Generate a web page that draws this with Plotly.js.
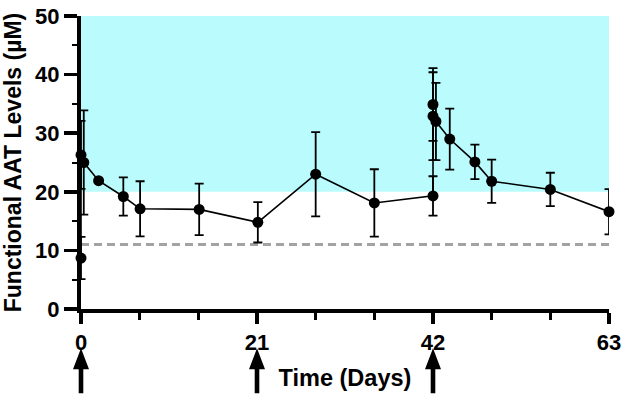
<!DOCTYPE html>
<html>
<head>
<meta charset="utf-8">
<script src="https://cdn.plot.ly/plotly-3.0.1.min.js"></script>
<style>html,body{margin:0;padding:0;background:#fff;}#chart{width:624px;height:399px;}</style>
</head>
<body>
<div id="chart"></div>
<script>
// Time points (days) in plotting order
const days = [0, 0, 0.33, 2.1, 5.05, 7.05, 14.1, 21.1, 28, 35, 42, 42, 42, 42.35, 44, 47, 49, 56, 63];
// Mean functional AAT levels (µM)
const aatMean = [8.7, 26.3, 25.0, 21.9, 19.2, 17.1, 17.0, 14.8, 23.0, 18.1, 19.3, 34.9, 32.9, 32.0, 29.0, 25.1, 21.8, 20.4, 16.6];
// Error (± SD)
const aatErr = [3.6, 5.8, 8.9, 0, 3.25, 4.7, 4.4, 3.45, 7.2, 5.75, 3.35, 6.2, 7.5, 6.6, 5.2, 2.95, 3.7, 2.85, 3.85];

const doseDays = [0, 21, 42];
const xTicks = [0, 21, 42, 63];
const yTicks = [0, 10, 20, 30, 40, 50];
const xRange = [0, 63];
const yRange = [0, 50];
const therapeuticBand = [20, 50];
const protectiveThreshold = 11;

const trace = {
  x: days,
  y: aatMean,
  type: 'scatter',
  mode: 'lines+markers',
  line: {color: '#000', width: 1.6},
  marker: {color: '#000', size: 11},
  error_y: {type: 'data', array: aatErr, visible: true, color: '#000', thickness: 1.8, width: 4.5},
  cliponaxis: false,
  hoverinfo: 'x+y'
};

const fontFam = 'Arial, "Liberation Sans", sans-serif';

const shapes = [
  {type: 'rect', xref: 'x', yref: 'y', x0: xRange[0], x1: xRange[1], y0: therapeuticBand[0], y1: therapeuticBand[1],
   fillcolor: '#bafcfd', line: {width: 0}, layer: 'below'},
  {type: 'line', xref: 'x', yref: 'y', x0: xRange[0], x1: xRange[1], y0: protectiveThreshold, y1: protectiveThreshold,
   line: {color: '#a3a3a3', width: 3, dash: '8px,5px'}, layer: 'below'}
];

// Dose arrows below the x axis
doseDays.forEach(d => {
  shapes.push({
    type: 'path', xref: 'paper', yref: 'paper',
    xsizemode: 'pixel', ysizemode: 'pixel',
    xanchor: (d - xRange[0]) / (xRange[1] - xRange[0]),
    yanchor: -0.134,
    path: 'M0,0 L8,-21 L2.3,-21 L2.3,-45 L-2.3,-45 L-2.3,-21 L-8,-21 Z',
    fillcolor: '#000', line: {width: 0}
  });
});

const layout = {
  width: 624, height: 399,
  margin: {l: 81, r: 15, t: 16, b: 90},
  paper_bgcolor: '#fff', plot_bgcolor: 'rgba(0,0,0,0)',
  showlegend: false,
  font: {family: fontFam, color: '#000'},
  xaxis: {
    range: xRange, tickvals: xTicks, ticktext: xTicks.map(String),
    showgrid: false, zeroline: false, showline: true, linecolor: '#000', linewidth: 4,
    layer: 'below traces',
    ticks: 'outside', ticklen: 11, tickwidth: 3.5, tickcolor: '#000',
    minor: {dtick: 7, tick0: 0, ticks: 'outside', ticklen: 7, tickwidth: 3.5, tickcolor: '#000', showgrid: false},
    tickfont: {size: 22, weight: 'bold', family: fontFam},
    title: {text: 'Time (Days)', font: {size: 23.5, weight: 'bold', family: fontFam}, standoff: 16}
  },
  yaxis: {
    range: yRange, tickvals: yTicks, ticktext: yTicks.map(String),
    showgrid: false, zeroline: false, showline: true, linecolor: '#000', linewidth: 4,
    layer: 'below traces',
    ticks: 'outside', ticklen: 13, tickwidth: 3.5, tickcolor: '#000',
    minor: {dtick: 5, tick0: 0, ticks: 'outside', ticklen: 5, tickwidth: 2, tickcolor: '#000', showgrid: false},
    tickfont: {size: 22, weight: 'bold', family: fontFam},
    title: {text: 'Functional AAT Levels (µM)', font: {size: 23, weight: 'bold', family: fontFam}, standoff: 10}
  },
  shapes: shapes
};

Plotly.newPlot('chart', [trace], layout, {displayModeBar: false, staticPlot: true});
</script>
</body>
</html>
